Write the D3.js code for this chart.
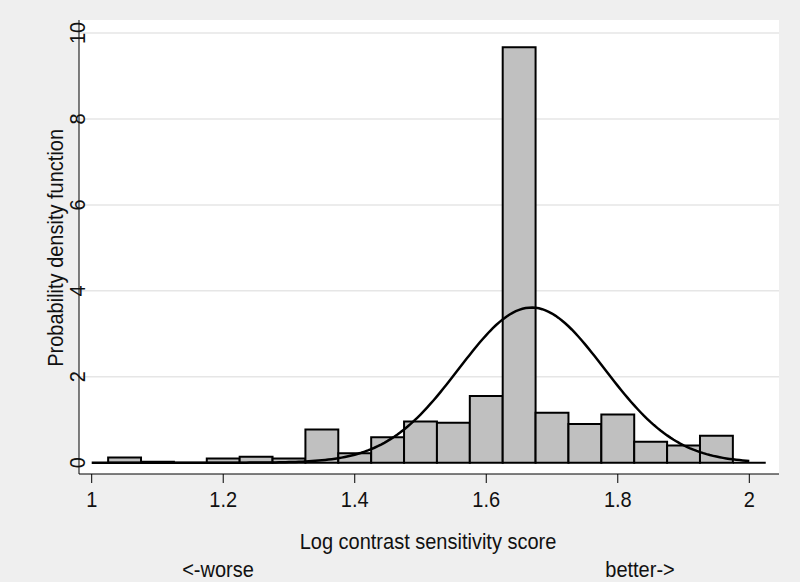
<!DOCTYPE html>
<html>
<head>
<meta charset="utf-8">
<script src="https://cdn.jsdelivr.net/npm/d3@7"></script>
<style>
  body { margin: 0; background: #efefef; }
  svg { display: block; font-family: "Liberation Sans", Arial, sans-serif; }
</style>
</head>
<body>
<div id="chart"></div>
<script>
// Histogram bins (lower edges) and densities
const binEdges = [1.025, 1.075, 1.125, 1.175, 1.225, 1.275, 1.325, 1.375, 1.425, 1.475,
                  1.525, 1.575, 1.625, 1.675, 1.725, 1.775, 1.825, 1.875, 1.925, 1.975];
const binWidth = 0.05;
const densities = [0.12, 0.02, 0, 0.10, 0.14, 0.10, 0.77, 0.22, 0.59, 0.96,
                   0.93, 1.55, 9.67, 1.16, 0.90, 1.12, 0.49, 0.40, 0.63, 0];

// Normal overlay parameters
const normMean = 1.669;
const normSd = 0.1105;
const normRange = [1.0, 2.0];

const xTicks = [1, 1.2, 1.4, 1.6, 1.8, 2];
const yTicks = [0, 2, 4, 6, 8, 10];

const width = 800, height = 582;
const plot = {left: 79, right: 779, top: 20, bottom: 474};

const svg = d3.select("#chart")
  .append("svg")
  .attr("width", width)
  .attr("height", height);

svg.append("rect")
  .attr("width", width).attr("height", height)
  .attr("fill", "#efefef");

// Plot region
svg.append("rect")
  .attr("x", plot.left).attr("y", plot.top)
  .attr("width", plot.right - plot.left)
  .attr("height", plot.bottom - plot.top)
  .attr("fill", "#fff");

const x = d3.scaleLinear().domain([1, 2]).range([91.7, 749.3]);
const y = d3.scaleLinear().domain([0, 10]).range([462.7, 33]);

// Gridlines
svg.append("g")
  .selectAll("line")
  .data(yTicks.filter(d => d > 0))
  .join("line")
  .attr("x1", plot.left).attr("x2", plot.right)
  .attr("y1", d => y(d)).attr("y2", d => y(d))
  .attr("stroke", "#e6e6e6")
  .attr("stroke-width", 1.5);

// Bars (drawn as closed paths so empty bins still show their base)
svg.append("g")
  .selectAll("path")
  .data(densities.map((v, i) => ({x0: binEdges[i], v})))
  .join("path")
  .attr("d", d => {
    const a = x(d.x0), b = x(d.x0 + binWidth);
    return `M${a},${y(0)}V${y(d.v)}H${b}V${y(0)}Z`;
  })
  .attr("fill", "#c0c0c0")
  .attr("stroke", "#000")
  .attr("stroke-width", 2);

// Normal density curve
const curveX = d3.range(0, 201).map(i => normRange[0] + (normRange[1] - normRange[0]) * i / 200);
const normPdf = v => Math.exp(-0.5 * ((v - normMean) / normSd) ** 2) / (normSd * Math.sqrt(2 * Math.PI));

svg.append("path")
  .datum(curveX)
  .attr("fill", "none")
  .attr("stroke", "#000")
  .attr("stroke-width", 2.5)
  .attr("d", d3.line().x(d => x(d)).y(d => y(normPdf(d))));

// Stretched text helper (reference glyphs are a bit taller than wide)
function label(g, tx, ty, rot, txt) {
  g.append("text")
    .attr("transform", `translate(${tx},${ty}) rotate(${rot}) scale(1,1.1)`)
    .attr("text-anchor", "middle")
    .style("font-size", "20px")
    .attr("fill", "#111")
    .text(txt);
}

// Y axis
svg.append("line")
  .attr("x1", plot.left).attr("x2", plot.left)
  .attr("y1", plot.top).attr("y2", plot.bottom)
  .attr("stroke", "#000");

const yLab = svg.append("g");
yTicks.forEach(d => label(yLab, 84.5, y(d), -90, d));

// X axis
svg.append("line")
  .attr("x1", plot.left).attr("x2", plot.right)
  .attr("y1", plot.bottom).attr("y2", plot.bottom)
  .attr("stroke", "#000");

svg.append("g")
  .selectAll("line")
  .data(xTicks)
  .join("line")
  .attr("x1", d => x(d)).attr("x2", d => x(d))
  .attr("y1", plot.bottom).attr("y2", 483)
  .attr("stroke", "#000");

const xLab = svg.append("g");
xTicks.forEach(d => label(xLab, x(d), 507, 0, d3.format("")(d)));

// Axis titles
const titles = svg.append("g");
label(titles, 428, 549, 0, "Log contrast sensitivity score");
label(titles, 218, 577, 0, "<-worse");
label(titles, 640, 577, 0, "better->");
label(titles, 63, (y(0) + y(10)) / 2, -90, "Probability density function");
</script>
</body>
</html>
